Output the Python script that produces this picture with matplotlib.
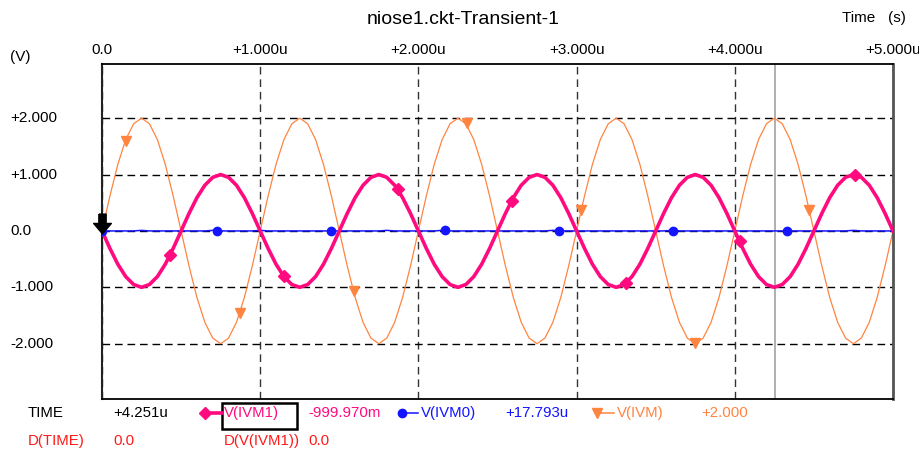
import matplotlib
matplotlib.use("Agg")
import matplotlib.pyplot as plt
import matplotlib.transforms as mtransforms
from matplotlib.lines import Line2D
from matplotlib.patches import Rectangle

plt.rcParams['font.family'] = ['Liberation Sans', 'DejaVu Sans']

# sample instants in microseconds (50 ns apart)
time_us = [
    0.00, 0.05, 0.10, 0.15, 0.20, 0.25, 0.30, 0.35, 0.40, 0.45,
    0.50, 0.55, 0.60, 0.65, 0.70, 0.75, 0.80, 0.85, 0.90, 0.95,
    1.00, 1.05, 1.10, 1.15, 1.20, 1.25, 1.30, 1.35, 1.40, 1.45,
    1.50, 1.55, 1.60, 1.65, 1.70, 1.75, 1.80, 1.85, 1.90, 1.95,
    2.00, 2.05, 2.10, 2.15, 2.20, 2.25, 2.30, 2.35, 2.40, 2.45,
    2.50, 2.55, 2.60, 2.65, 2.70, 2.75, 2.80, 2.85, 2.90, 2.95,
    3.00, 3.05, 3.10, 3.15, 3.20, 3.25, 3.30, 3.35, 3.40, 3.45,
    3.50, 3.55, 3.60, 3.65, 3.70, 3.75, 3.80, 3.85, 3.90, 3.95,
    4.00, 4.05, 4.10, 4.15, 4.20, 4.25, 4.30, 4.35, 4.40, 4.45,
    4.50, 4.55, 4.60, 4.65, 4.70, 4.75, 4.80, 4.85, 4.90, 4.95,
    5.00,
]

# V(IVM1) [V]
v_ivm1 = [
    0.00, -0.31, -0.59, -0.81, -0.95, -1.00, -0.95, -0.81, -0.59, -0.31,
    0.00, 0.31, 0.59, 0.81, 0.95, 1.00, 0.95, 0.81, 0.59, 0.31,
    0.00, -0.31, -0.59, -0.81, -0.95, -1.00, -0.95, -0.81, -0.59, -0.31,
    0.00, 0.31, 0.59, 0.81, 0.95, 1.00, 0.95, 0.81, 0.59, 0.31,
    0.00, -0.31, -0.59, -0.81, -0.95, -1.00, -0.95, -0.81, -0.59, -0.31,
    0.00, 0.31, 0.59, 0.81, 0.95, 1.00, 0.95, 0.81, 0.59, 0.31,
    0.00, -0.31, -0.59, -0.81, -0.95, -1.00, -0.95, -0.81, -0.59, -0.31,
    0.00, 0.31, 0.59, 0.81, 0.95, 1.00, 0.95, 0.81, 0.59, 0.31,
    0.00, -0.31, -0.59, -0.81, -0.95, -1.00, -0.95, -0.81, -0.59, -0.31,
    0.00, 0.31, 0.59, 0.81, 0.95, 1.00, 0.95, 0.81, 0.59, 0.31,
    0.00,
]

# V(IVM0) [V]
v_ivm0 = [
    0.00, 0.00, 0.00, 0.00, 0.00, 0.01, 0.00, 0.00, 0.00, 0.00,
    0.00, 0.00, 0.00, 0.00, 0.01, 0.00, 0.00, 0.00, 0.00, 0.00,
    0.01, 0.00, 0.00, 0.00, 0.00, 0.00, 0.00, 0.00, 0.00, 0.00,
    0.00, 0.00, 0.00, 0.00, 0.00, 0.00, 0.01, 0.00, 0.00, 0.00,
    0.00, 0.00, 0.00, 0.01, 0.00, 0.00, 0.00, 0.00, 0.00, 0.00,
    0.00, 0.00, 0.00, 0.00, 0.00, 0.00, 0.00, 0.01, 0.00, 0.00,
    0.00, 0.00, 0.00, 0.00, 0.00, 0.00, 0.00, 0.00, 0.00, 0.00,
    0.00, 0.00, 0.01, 0.00, 0.00, 0.00, 0.00, 0.00, 0.00, 0.00,
    0.00, 0.00, 0.00, 0.00, 0.00, 0.00, 0.00, 0.00, 0.00, 0.00,
    0.00, 0.00, 0.00, 0.00, 0.00, 0.01, 0.00, 0.00, 0.00, 0.00,
    0.00,
]

# V(IVM) [V]
v_ivm = [
    0.00, 0.62, 1.18, 1.62, 1.90, 2.00, 1.90, 1.62, 1.18, 0.62,
    0.00, -0.62, -1.18, -1.62, -1.90, -2.00, -1.90, -1.62, -1.18, -0.62,
    0.00, 0.62, 1.18, 1.62, 1.90, 2.00, 1.90, 1.62, 1.18, 0.62,
    0.00, -0.62, -1.18, -1.62, -1.90, -2.00, -1.90, -1.62, -1.18, -0.62,
    0.00, 0.62, 1.18, 1.62, 1.90, 2.00, 1.90, 1.62, 1.18, 0.62,
    0.00, -0.62, -1.18, -1.62, -1.90, -2.00, -1.90, -1.62, -1.18, -0.62,
    0.00, 0.62, 1.18, 1.62, 1.90, 2.00, 1.90, 1.62, 1.18, 0.62,
    0.00, -0.62, -1.18, -1.62, -1.90, -2.00, -1.90, -1.62, -1.18, -0.62,
    0.00, 0.62, 1.18, 1.62, 1.90, 2.00, 1.90, 1.62, 1.18, 0.62,
    0.00, -0.62, -1.18, -1.62, -1.90, -2.00, -1.90, -1.62, -1.18, -0.62,
    0.00,
]

# trace symbols as drawn on the curves
ivm1_mark_t = [0.43, 1.15, 1.87, 2.59, 3.31, 4.03, 4.76]
ivm1_mark_v = [-0.42, -0.80, 0.74, 0.53, -0.93, -0.18, 1.00]
ivm0_mark_t = [0.00, 0.73, 1.45, 2.17, 2.89, 3.61, 4.33]
ivm0_mark_v = [0.00, 0.00, 0.00, 0.01, 0.00, 0.00, 0.00]
ivm_mark_t = [0.15, 0.87, 1.59, 2.31, 3.03, 3.75, 4.47]
ivm_mark_v = [1.60, -1.45, -1.07, 1.92, 0.38, -1.99, 0.38]

x_ticks = [0, 1, 2, 3, 4, 5]
x_tick_labels = ['0.0', '+1.000u', '+2.000u', '+3.000u', '+4.000u', '+5.000u']
y_ticks = [2, 1, 0, -1, -2]
y_tick_labels = ['+2.000', '+1.000', '0.0', '-1.000', '-2.000']

cursor_t = 4.251

MAGENTA = '#ff0a7f'
BLUE = '#1414ff'
ORANGE = '#ff8440'
RED = '#ff1a1a'

W, H = 920, 450


def fx(px):
    return px / W


def fy(py):
    return 1 - py / H


fig = plt.figure(figsize=(9.2, 4.5), dpi=100)
ax = fig.add_axes([fx(102), fy(399), (893 - 102) / W, (399 - 64) / H])
ax.set_xlim(0, 5)
ax.set_ylim(-2.98, 2.96)
ax.set_xticks([])
ax.set_yticks([])

for sp in ['top', 'bottom']:
    ax.spines[sp].set_linewidth(1.3)
    ax.spines[sp].set_color('black')
ax.spines['left'].set_color('#222222')
ax.spines['left'].set_linewidth(1.5)
ax.spines['right'].set_color('#555555')
ax.spines['right'].set_linewidth(2.0)

dash = (0, (5.5, 3.5))
for xv in x_ticks:
    ax.axvline(xv, color='#333333', lw=1.0, ls=dash, zorder=1)
for yv in y_ticks:
    ax.axhline(yv, color='black', lw=1.0, ls=dash, zorder=1)

ax.axvline(cursor_t, color='#9a9a9a', lw=1.1, zorder=1.5)

ax.plot(time_us, v_ivm, color=ORANGE, lw=0.9, zorder=2)
ax.plot(time_us, v_ivm0, color=BLUE, lw=1.1, zorder=3)
ax.plot(time_us, v_ivm1, color=MAGENTA, lw=2.6, zorder=4)

ax.plot(ivm_mark_t, ivm_mark_v, ls='none', marker='v', ms=7, color=ORANGE, zorder=5)
ax.plot(ivm0_mark_t, ivm0_mark_v, ls='none', marker='o', ms=6, color=BLUE, zorder=5)
ax.plot(ivm1_mark_t, ivm1_mark_v, ls='none', marker='D', ms=6.5, color=MAGENTA, zorder=5)

# cursor arrow at the start of the trace
arrow = [(-0.35, 1.0), (0.35, 1.0), (0.35, 0.1), (0.85, 0.1), (0.0, -0.9),
         (-0.85, 0.1), (-0.35, 0.1), (-0.35, 1.0)]
ax.plot([0.0], [0.13], ls='none', marker=arrow, ms=15, color='black',
        zorder=6, clip_on=False)

# axis labels
ytrans = mtransforms.blended_transform_factory(fig.transFigure, ax.transData)
for yv, lab in zip(y_ticks, y_tick_labels):
    fig.text(fx(10), yv, lab, transform=ytrans, ha='left', va='center', fontsize=11)

xtrans = mtransforms.blended_transform_factory(ax.transData, fig.transFigure)
for xv, lab in zip(x_ticks, x_tick_labels):
    fig.text(xv, fy(50), lab, transform=xtrans, ha='center', va='center', fontsize=11)

fig.text(fx(10), fy(57), '(V)', ha='left', va='center', fontsize=11)
fig.text(fx(463), fy(20), 'niose1.ckt-Transient-1', ha='center', va='center', fontsize=14)
fig.text(fx(842), fy(18), 'Time   (s)', ha='left', va='center', fontsize=11)

# readout rows under the plot
row1, row2 = fy(413), fy(441)
fig.text(fx(28), row1, 'TIME', ha='left', va='center', fontsize=10.8)
fig.text(fx(113), row1, '+4.251u', ha='left', va='center', fontsize=10.8)

fig.add_artist(Line2D([fx(205), fx(222)], [row1, row1], color=MAGENTA, lw=2.6,
                      marker='D', ms=6.5, markevery=[0]))
fig.text(fx(224), row1, 'V(IVM1)', ha='left', va='center', fontsize=10.8, color=MAGENTA)
fig.add_artist(Rectangle((fx(222), fy(429)), (297 - 222) / W, (429 - 403) / H,
                         fill=False, edgecolor='black', lw=1.8,
                         transform=fig.transFigure))
fig.text(fx(308), row1, '-999.970m', ha='left', va='center', fontsize=10.8, color=MAGENTA)

fig.add_artist(Line2D([fx(402), fx(418)], [row1, row1], color=BLUE, lw=1.1,
                      marker='o', ms=6, markevery=[0]))
fig.text(fx(421), row1, 'V(IVM0)', ha='left', va='center', fontsize=10.8, color=BLUE)
fig.text(fx(505), row1, '+17.793u', ha='left', va='center', fontsize=10.8, color=BLUE)

fig.add_artist(Line2D([fx(597), fx(614)], [row1, row1], color=ORANGE, lw=1.1,
                      marker='v', ms=7, markevery=[0]))
fig.text(fx(617), row1, 'V(IVM)', ha='left', va='center', fontsize=10.8, color=ORANGE)
fig.text(fx(701), row1, '+2.000', ha='left', va='center', fontsize=10.8, color=ORANGE)

fig.text(fx(28), row2, 'D(TIME)', ha='left', va='center', fontsize=10.8, color=RED)
fig.text(fx(113), row2, '0.0', ha='left', va='center', fontsize=10.8, color=RED)
fig.text(fx(224), row2, 'D(V(IVM1))', ha='left', va='center', fontsize=10.8, color=RED)
fig.text(fx(308), row2, '0.0', ha='left', va='center', fontsize=10.8, color=RED)

fig.savefig('out.png', dpi=100)
